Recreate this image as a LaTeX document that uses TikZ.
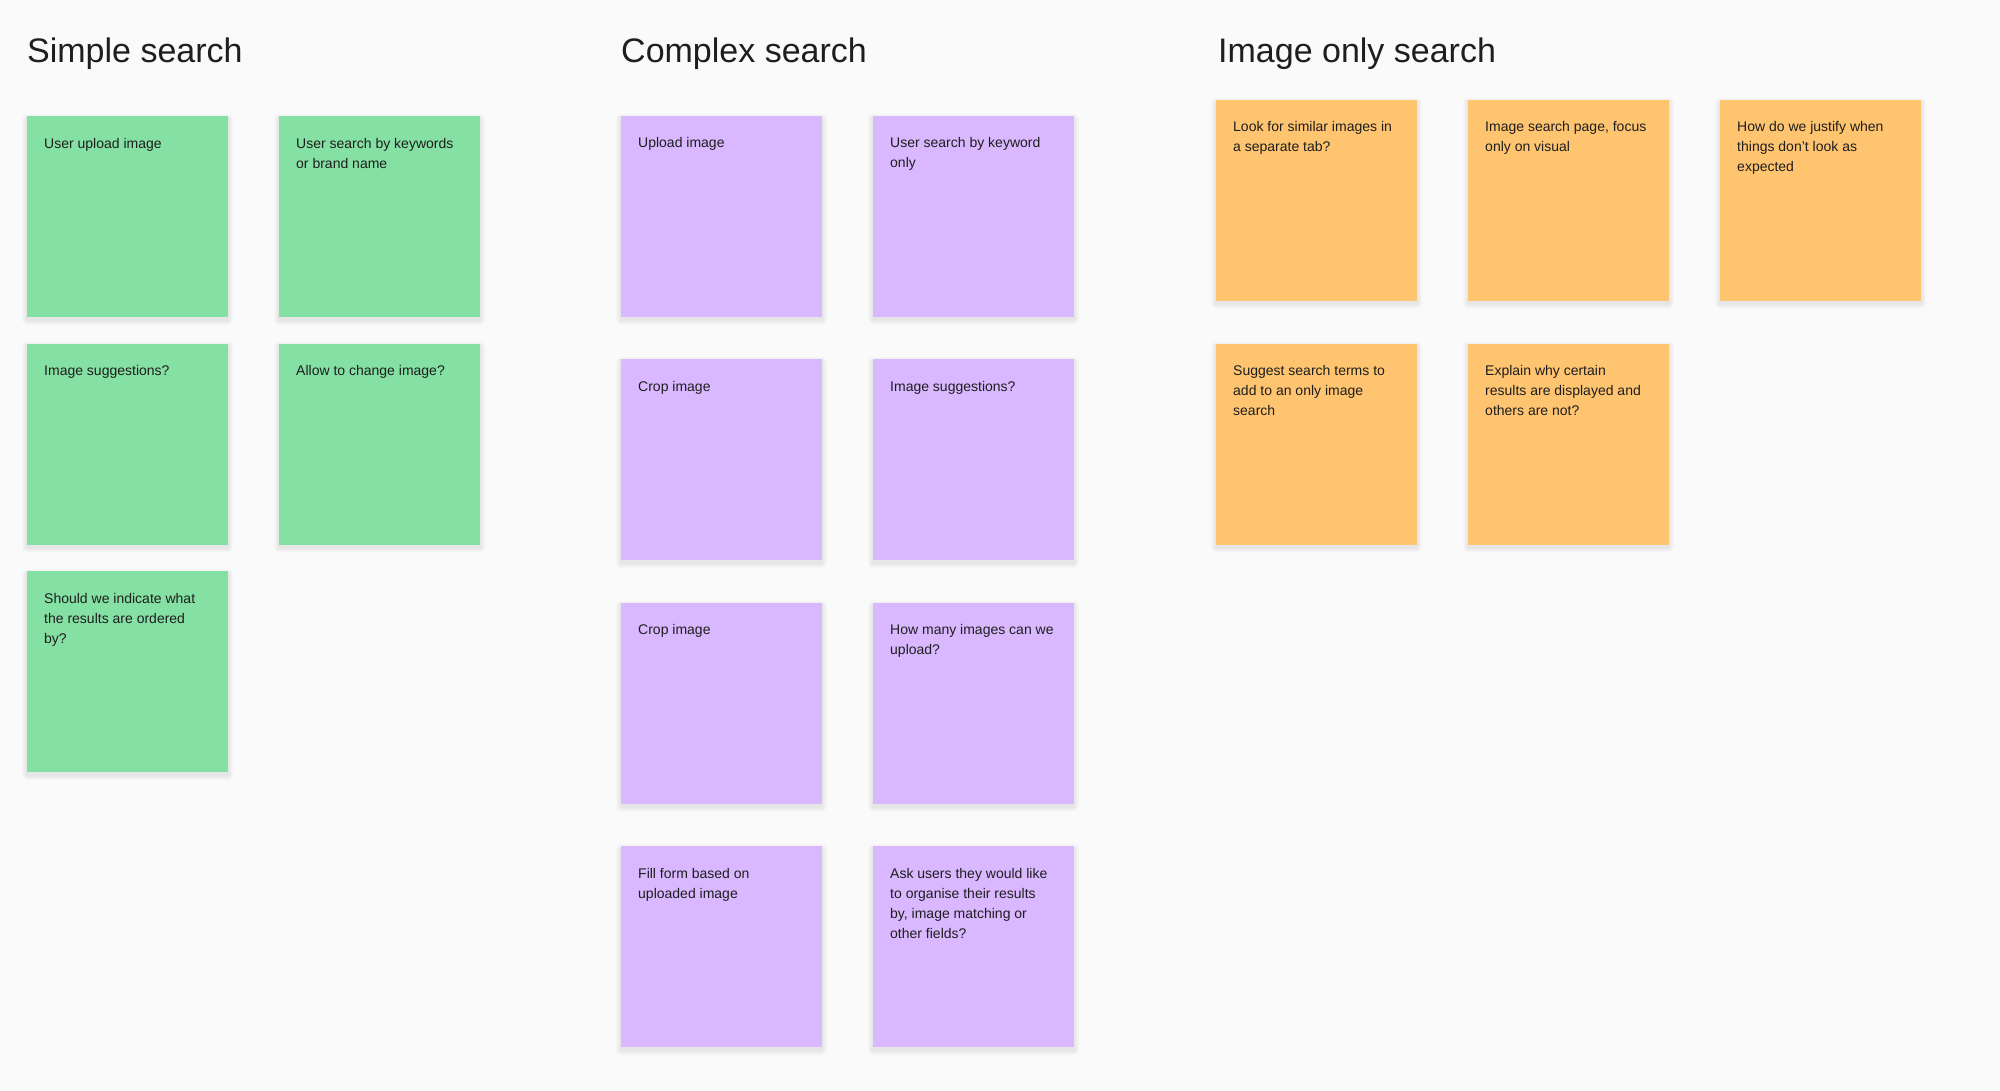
\documentclass[tikz,border=0pt]{standalone}
\usepackage{fontspec}
\setmainfont{Liberation Sans}

\definecolor{canvas}{HTML}{FAFAFA}
\definecolor{ink}{HTML}{1E1E1E}
\definecolor{notegreen}{HTML}{85E0A3}
\definecolor{notepurple}{HTML}{D9B8FF}
\definecolor{noteorange}{HTML}{FFC470}

% A square sticky note (with a soft shadow below it) and its text set in the upper left corner
\newcommand\stickynote[5]{%
  \foreach \g in {1,...,5}
    \fill[black, opacity=0.016, rounded corners=\g pt]
      ({#2-\g},{#3+3-\g}) rectangle ({#2+201+\g},{#3+204+\g});
  \node[note, fill=#4] (#1) at (#2,#3) {};
  \node[notetext] (#1-text) at ([xshift=17pt,yshift=-18pt]#1.north west) {\strut#5};
}

\begin{document}
\begin{tikzpicture}[x=1pt,y=-1pt,
  note/.style={anchor=north west, minimum width=201pt, minimum height=201pt,
    inner sep=0pt, outer sep=0pt, draw=none},
  notetext/.style={anchor=north west, inner sep=0pt, align=left, text=ink,
    font=\fontsize{14}{20}\selectfont},
  heading/.style={anchor=base west, inner sep=0pt, text=ink,
    font=\fontsize{34}{40}\selectfont}]

  % board
  \fill[canvas] (0,0) rectangle (2000,1090);
  \useasboundingbox (0,0) rectangle (2000,1090);

  % column headings
  \node[heading] (simple)  at (27,62)   {Simple search};
  \node[heading] (complex) at (621,62)  {Complex search};
  \node[heading] (imgonly) at (1218,62) {Image only search};

  % simple search
  \stickynote{s1}{27}{116}{notegreen}{User upload image}
  \stickynote{s2}{279}{116}{notegreen}{User search by keywords\\or brand name}
  \stickynote{s3}{27}{343.5}{notegreen}{Image suggestions?}
  \stickynote{s4}{279}{343.5}{notegreen}{Allow to change image?}
  \stickynote{s5}{27}{571}{notegreen}{Should we indicate what\\the results are ordered\\by?}

  % complex search
  \stickynote{c1}{621}{115.5}{notepurple}{Upload image}
  \stickynote{c2}{873}{115.5}{notepurple}{User search by keyword\\only}
  \stickynote{c3}{621}{359}{notepurple}{Crop image}
  \stickynote{c4}{873}{359}{notepurple}{Image suggestions?}
  \stickynote{c5}{621}{602.5}{notepurple}{Crop image}
  \stickynote{c6}{873}{602.5}{notepurple}{How many images can we\\upload?}
  \stickynote{c7}{621}{846}{notepurple}{Fill form based on\\uploaded image}
  \stickynote{c8}{873}{846}{notepurple}{Ask users they would like\\to organise their results\\by, image matching or\\other fields?}

  % image only search
  \stickynote{o1}{1216}{99.5}{noteorange}{Look for similar images in\\a separate tab?}
  \stickynote{o2}{1468}{99.5}{noteorange}{Image search page, focus\\only on visual}
  \stickynote{o3}{1720}{99.5}{noteorange}{How do we justify when\\things don’t look as\\expected}
  \stickynote{o4}{1216}{343.5}{noteorange}{Suggest search terms to\\add to an only image\\search}
  \stickynote{o5}{1468}{343.5}{noteorange}{Explain why certain\\results are displayed and\\others are not?}
\end{tikzpicture}
\end{document}
